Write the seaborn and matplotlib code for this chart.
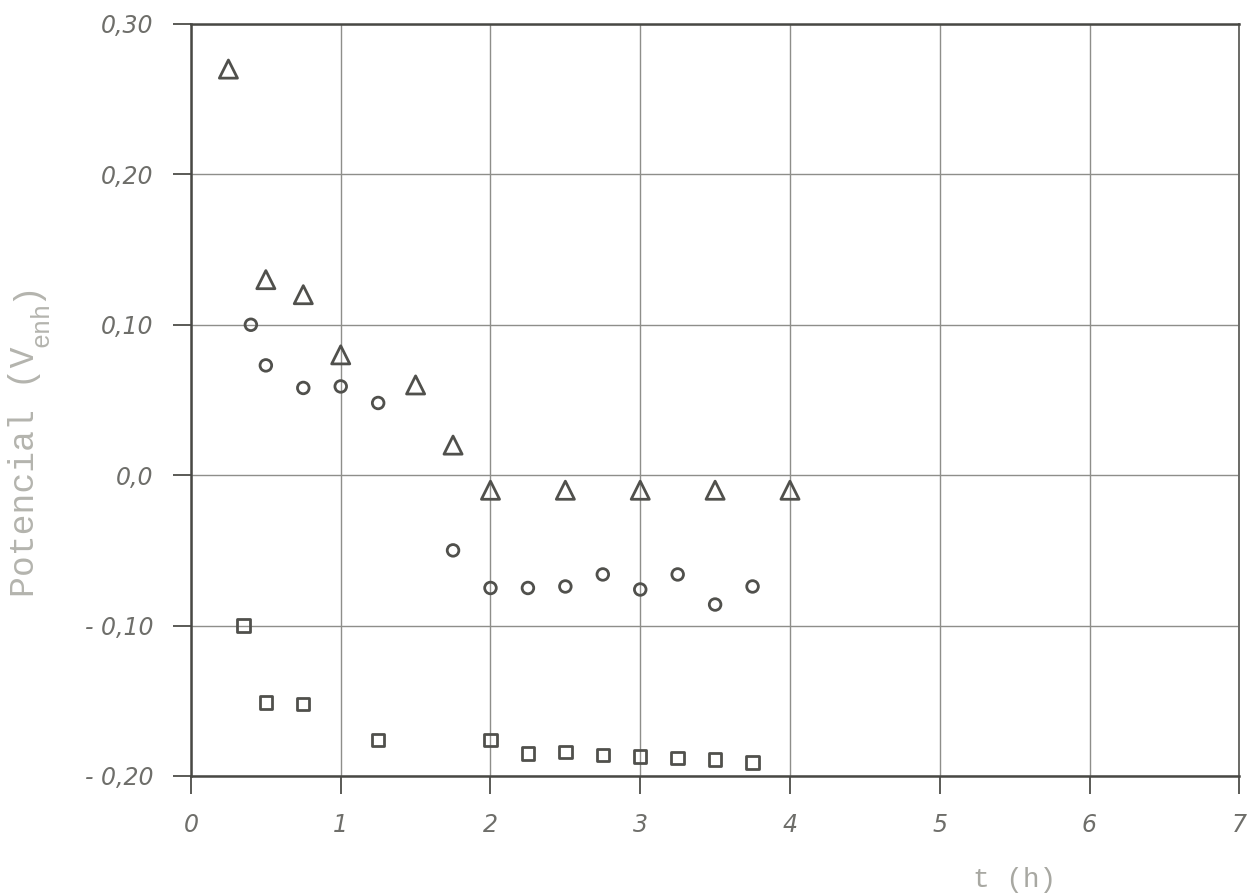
import matplotlib
matplotlib.use("Agg")
import matplotlib.pyplot as plt
import seaborn as sns
import pandas as pd

# Potential vs. time for three electrode series
tri_t = [0.25, 0.5, 0.75, 1.0, 1.5, 1.75, 2.0, 2.5, 3.0, 3.5, 4.0]
tri_v = [0.27, 0.13, 0.12, 0.08, 0.06, 0.02, -0.01, -0.01, -0.01, -0.01, -0.01]

circ_t = [0.4, 0.5, 0.75, 1.0, 1.25, 1.75, 2.0, 2.25, 2.5, 2.75, 3.0, 3.25, 3.5, 3.75]
circ_v = [0.10, 0.073, 0.058, 0.059, 0.048, -0.050, -0.075, -0.075, -0.074,
          -0.066, -0.076, -0.066, -0.086, -0.074]

sq_t = [0.35, 0.5, 0.75, 1.25, 2.0, 2.25, 2.5, 2.75, 3.0, 3.25, 3.5, 3.75]
sq_v = [-0.100, -0.151, -0.152, -0.176, -0.176, -0.185, -0.184, -0.186,
        -0.187, -0.188, -0.189, -0.191]

x_ticks = [0, 1, 2, 3, 4, 5, 6, 7]
y_ticks = [-0.20, -0.10, 0.0, 0.10, 0.20, 0.30]
y_tick_labels = ["- 0,20", "- 0,10", "0,0", "0,10", "0,20", "0,30"]

sns.set_theme(style="white")

W, H = 1249, 894
fig = plt.figure(figsize=(W / 100, H / 100), dpi=100)
ax = fig.add_axes([0.1529, 0.132, 0.8393, 0.8412])

ink = "#50504c"
grid_c = "#8e8e8a"

series = [
    (tri_t, tri_v, "^", 170),
    (circ_t, circ_v, "o", 70),
    (sq_t, sq_v, "s", 80),
]
for t, v, mk, size in series:
    df = pd.DataFrame({"t": t, "v": v})
    sns.scatterplot(data=df, x="t", y="v", marker=mk, s=size, ax=ax,
                    facecolors="none", edgecolor=ink, linewidth=2.0, zorder=3)

ax.set_xlim(0, 7)
ax.set_ylim(-0.20, 0.30)
ax.set_xticks(x_ticks)
ax.set_xticklabels([str(x) for x in x_ticks])
ax.set_yticks(y_ticks)
ax.set_yticklabels(y_tick_labels)
ax.set_xlabel("")
ax.set_ylabel("")

ax.grid(True, color=grid_c, linewidth=1.0)
ax.set_axisbelow(True)
for side in ["left", "top", "bottom"]:
    ax.spines[side].set_color("#484844")
    ax.spines[side].set_linewidth(1.8)
ax.spines["right"].set_color("#6a6a66")
ax.spines["right"].set_linewidth(1.4)

ax.tick_params(axis="both", bottom=True, left=True, direction="out",
               length=13, width=1.4, color="#5a5a56",
               labelcolor="#6e6e6a", labelsize=17)
ax.tick_params(axis="y", pad=14)
ax.tick_params(axis="x", pad=14)
for lab in ax.get_xticklabels() + ax.get_yticklabels():
    lab.set_fontstyle("italic")
    lab.set_family("DejaVu Sans")

# Vertical axis title in typewriter lettering with a subscript
label_c = "#b4b4ae"
mono = "Liberation Mono"
fig.text(25 / W, 1 - 597 / H, "Potencial (V", rotation=90, family=mono,
         fontsize=25, color=label_c, ha="center", va="bottom")
fig.text(41 / W, 1 - 347 / H, "enh", rotation=90, family=mono,
         fontsize=18, color=label_c, ha="center", va="bottom")
fig.text(25 / W, 1 - 301 / H, ")", rotation=90, family=mono,
         fontsize=25, color=label_c, ha="center", va="bottom")

# Horizontal axis title
fig.text(1015 / W, 1 - 880 / H, "t (h)", family=mono, fontsize=20,
         color="#a8a8a2", ha="center", va="center")

fig.savefig("out.png", dpi=100, facecolor="white")
